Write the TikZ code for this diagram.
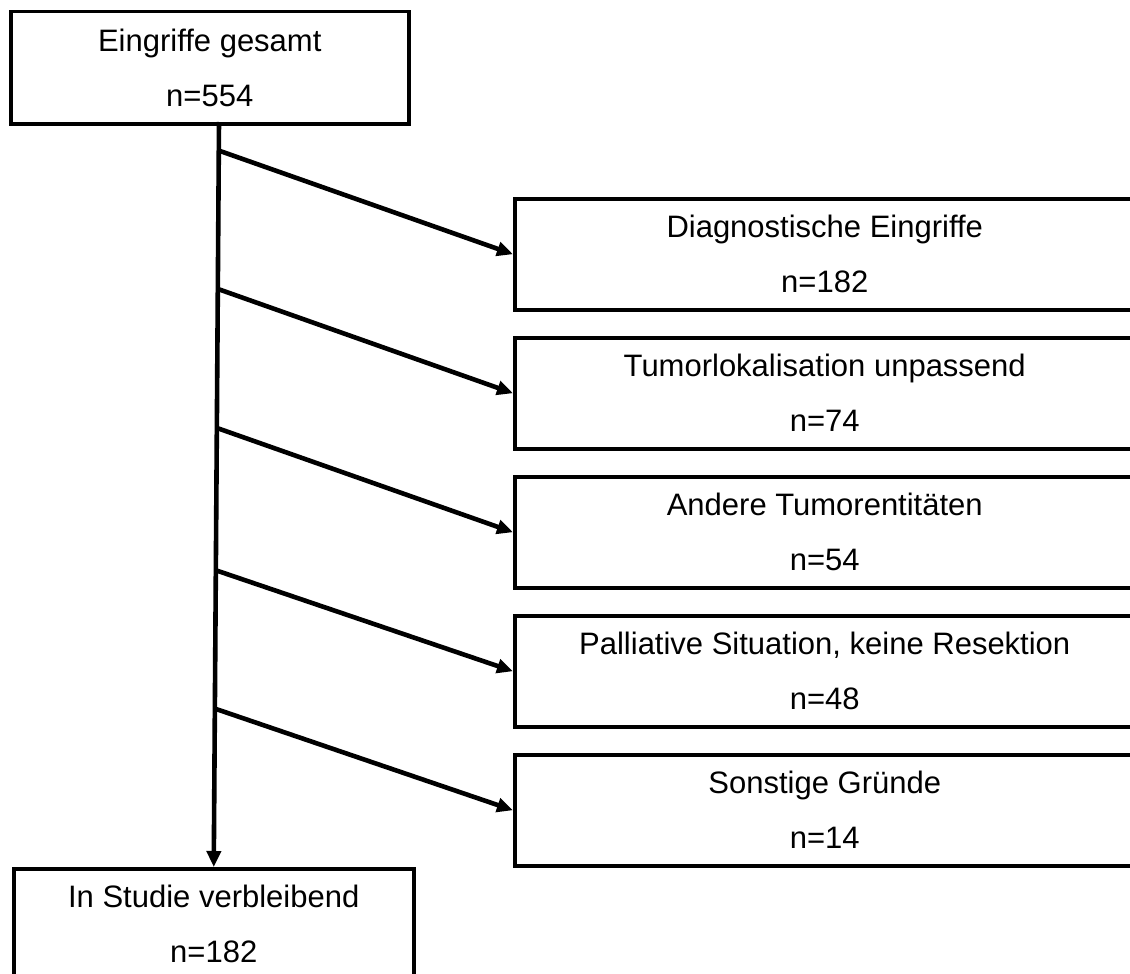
\documentclass[tikz,border=0pt]{standalone}
\usepackage{fontspec}
\setmainfont{Liberation Sans}
\usetikzlibrary{arrows.meta}
\begin{document}
\begin{tikzpicture}[x=1pt,y=-1pt,
  box/.style={draw, line width=3.5pt, inner sep=0pt, align=center,
    font=\fontsize{31}{55}\selectfont, anchor=north west},
  sidebox/.style={box, minimum width=620pt, minimum height=111pt},
  arr/.style={line width=4.6pt, -{Triangle[length=16pt,width=14pt]}}]
\useasboundingbox (0,0) rectangle (1130,974);
\clip (0,0) rectangle (1130,974);

\node[box, minimum width=398pt, minimum height=112pt] (top) at (9,10) {Eingriffe gesamt\\n=554};
\node[sidebox] (d1) at (513,197) {Diagnostische Eingriffe\\n=182};
\node[sidebox] (d2) at (513,336) {Tumorlokalisation unpassend\\n=74};
\node[sidebox] (d3) at (513,475) {Andere Tumorentitäten\\n=54};
\node[sidebox] (d4) at (513,614) {Palliative Situation, keine Resektion\\n=48};
\node[sidebox] (d5) at (513,753) {Sonstige Gründe\\n=14};
\node[box, minimum width=400pt, minimum height=111pt] (bot) at (12,867) {In Studie verbleibend\\n=182};

\coordinate (vs) at (219,122);
\coordinate (b1) at (220,151);
\coordinate (b2) at (218,289);
\coordinate (b3) at (217,428);
\coordinate (b4) at (215,570);
\coordinate (b5) at (216,709);

\draw[arr] (vs) -- (bot.north);
\draw[arr] (b1) -- (d1.west);
\draw[arr] (b2) -- (d2.west);
\draw[arr] (b3) -- (d3.west);
\draw[arr] (b4) -- (d4.west);
\draw[arr] (b5) -- (d5.west);
\end{tikzpicture}
\end{document}
